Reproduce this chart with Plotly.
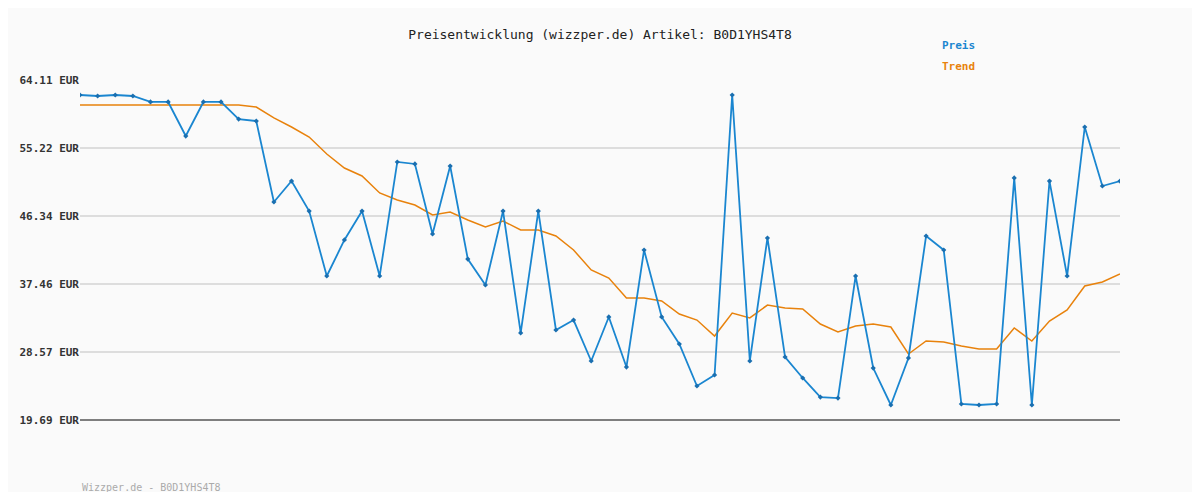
import plotly.graph_objects as go

idx = list(range(60))
price = [62.15, 62.02, 62.15, 62.02, 61.24, 61.24, 56.79, 61.24, 61.24, 59.01,
         58.75, 48.17, 50.91, 46.99, 38.50, 43.21, 46.99, 38.50, 53.40, 53.14,
         43.99, 52.87, 40.72, 37.33, 46.99, 31.06, 46.99, 31.45, 32.75, 27.40,
         33.15, 26.61, 41.90, 33.15, 29.62, 24.13, 25.57, 62.15, 27.40, 43.47,
         27.92, 25.18, 22.69, 22.56, 38.50, 26.48, 21.65, 27.79, 43.73, 41.90,
         21.78, 21.65, 21.78, 51.31, 21.65, 50.91, 38.50, 57.97, 50.26, 50.91]
trend = [60.84] * 10 + [
         60.58, 59.15, 57.97, 56.66, 54.44, 52.61, 51.57, 49.35, 48.43, 47.78,
         46.47, 46.86, 45.82, 44.90, 45.69, 44.51, 44.51, 43.73, 41.90, 39.29,
         38.24, 35.63, 35.63, 35.24, 33.54, 32.75, 30.66, 33.67, 33.02, 34.71,
         34.32, 34.19, 32.23, 31.19, 31.97, 32.23, 31.84, 28.31, 30.01, 29.88,
         29.36, 28.97, 28.97, 31.71, 30.01, 32.62, 34.06, 37.20, 37.72, 38.76]
yticks = [19.69, 28.57, 37.46, 46.34, 55.22, 64.11]
ytext = [f"<b>{v:.2f} EUR</b>" for v in yticks]

mono = "DejaVu Sans Mono"
fig = go.Figure()
fig.add_trace(go.Scatter(x=idx, y=trend, mode="lines", line=dict(color="#e8820c", width=1.5), name="Trend"))
fig.add_trace(go.Scatter(x=idx, y=price, mode="lines+markers", line=dict(color="#1a86d0", width=1.8),
                         marker=dict(symbol="diamond", size=4, color="#1a6fb0"), name="Preis"))
fig.update_layout(
    width=1184, height=484, showlegend=False,
    paper_bgcolor="#fafafa", plot_bgcolor="#fafafa",
    margin=dict(l=72, r=72, t=72, b=72),
    font=dict(family=mono, size=11, color="#333"),
    title=dict(text="Preisentwicklung (wizzper.de) Artikel: B0D1YHS4T8", x=0.5, xanchor="center",
               y=0.955, font=dict(family=mono, size=13, color="#222")),
    xaxis=dict(range=[0, 59], showgrid=False, showticklabels=False, zeroline=False,
               showline=False),
    yaxis=dict(range=[19.69, 64.11], tickvals=yticks, ticktext=ytext, gridcolor="#dddddd",
               gridwidth=1.5, zeroline=False, showline=False, ticks="",
               tickfont=dict(family=mono, size=11, color="#333")),
    shapes=[dict(type="line", xref="paper", yref="paper", x0=0, x1=1, y0=0, y1=0,
                 line=dict(color="#555", width=1.5))],
)

def px(x, y):
    return (x - 80) / 1040, (420 - y) / 340

anns = []
for (t, x, y), col, sz in [(("<b>Preis</b>", 940, 46), "#1a86d0", 11),
                           (("<b>Trend</b>", 940, 67), "#e8820c", 11),
                           (("Wizzper.de - B0D1YHS4T8", 80, 487), "#aaaaaa", 10)]:
    xp, yp = px(x, y)
    anns.append(dict(text=t, x=xp, y=yp, xref="paper", yref="paper", xanchor="left", yanchor="middle",
                     showarrow=False, font=dict(color=col, size=sz, family=mono)))
fig.update_layout(annotations=anns)
fig.write_html("out.html")
